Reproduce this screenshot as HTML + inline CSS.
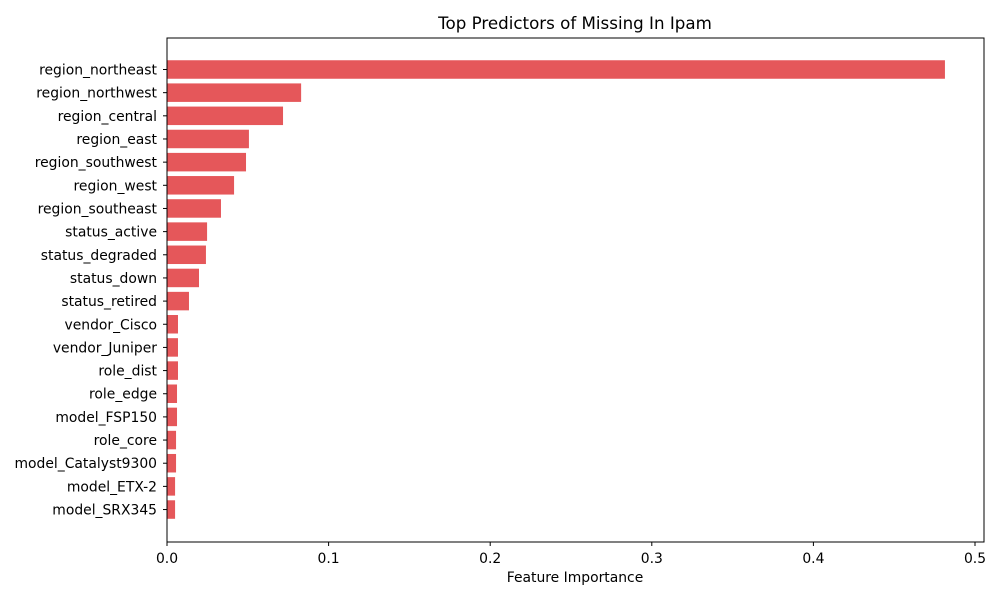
<!DOCTYPE html>
<html><head><meta charset="utf-8"><style>
body{margin:0;background:#fff;}
svg text{font-family:"DejaVu Sans","Liberation Sans",sans-serif;fill:#000;}
</style></head><body>
<svg id="chart" width="1000" height="600" xmlns="http://www.w3.org/2000/svg">
<rect width="1000" height="600" fill="#fff"/>
<text x="575" y="29" font-size="16.7" text-anchor="middle">Top Predictors of Missing In Ipam</text>
<g id="bars"></g>
<g id="yticks"></g>
<g id="xticks"></g>
<rect x="167" y="38" width="817" height="504" fill="none" stroke="#000" stroke-width="1"/>
<text x="575" y="582" font-size="13.9" text-anchor="middle">Feature Importance</text>
</svg>
<script>
const categories=["region_northeast","region_northwest","region_central","region_east","region_southwest","region_west","region_southeast","status_active","status_degraded","status_down","status_retired","vendor_Cisco","vendor_Juniper","role_dist","role_edge","model_FSP150","role_core","model_Catalyst9300","model_ETX-2","model_SRX345"];
const values=[0.4814,0.083,0.0718,0.0507,0.0489,0.0415,0.0334,0.0248,0.0241,0.0198,0.0136,0.0068,0.0068,0.0068,0.0062,0.0062,0.0056,0.0056,0.005,0.005];
const xTicks=[0,0.1,0.2,0.3,0.4,0.5];
const xTickLabels=["0.0","0.1","0.2","0.3","0.4","0.5"];
const NS="http://www.w3.org/2000/svg";
const x0=167,pxPerUnit=1616,yFirst=69.5,step=23.16,barH=18.5;
const xs=v=>x0+v*pxPerUnit;
const ys=i=>yFirst+i*step;
const bars=document.getElementById('bars'),yt=document.getElementById('yticks'),xt=document.getElementById('xticks');
categories.forEach((c,i)=>{
  const r=document.createElementNS(NS,'rect');
  r.setAttribute('x',x0);r.setAttribute('y',ys(i)-barH/2);
  r.setAttribute('width',xs(values[i])-x0);r.setAttribute('height',barH);
  r.setAttribute('fill','#e5575a');
  
  
  bars.appendChild(r);
  const l=document.createElementNS(NS,'line');
  l.setAttribute('x1',x0-4);l.setAttribute('x2',x0);l.setAttribute('y1',ys(i));l.setAttribute('y2',ys(i));l.setAttribute('stroke','#000');
  
  
  yt.appendChild(l);
  const t=document.createElementNS(NS,'text');
  t.setAttribute('x',x0-10);t.setAttribute('y',ys(i)+5);t.setAttribute('font-size','13.9');t.setAttribute('text-anchor','end');
  t.textContent=c;
  
  
  yt.appendChild(t);
});
xTicks.forEach((v,i)=>{
  const l=document.createElementNS(NS,'line');
  l.setAttribute('x1',xs(v));l.setAttribute('x2',xs(v));l.setAttribute('y1',542);l.setAttribute('y2',546);l.setAttribute('stroke','#000');
  
  
  xt.appendChild(l);
  const t=document.createElementNS(NS,'text');
  t.setAttribute('x',xs(v));t.setAttribute('y',563);t.setAttribute('font-size','13.9');t.setAttribute('text-anchor','middle');
  t.textContent=xTickLabels[i];
  
  
  xt.appendChild(t);
});
</script>
</body></html>
